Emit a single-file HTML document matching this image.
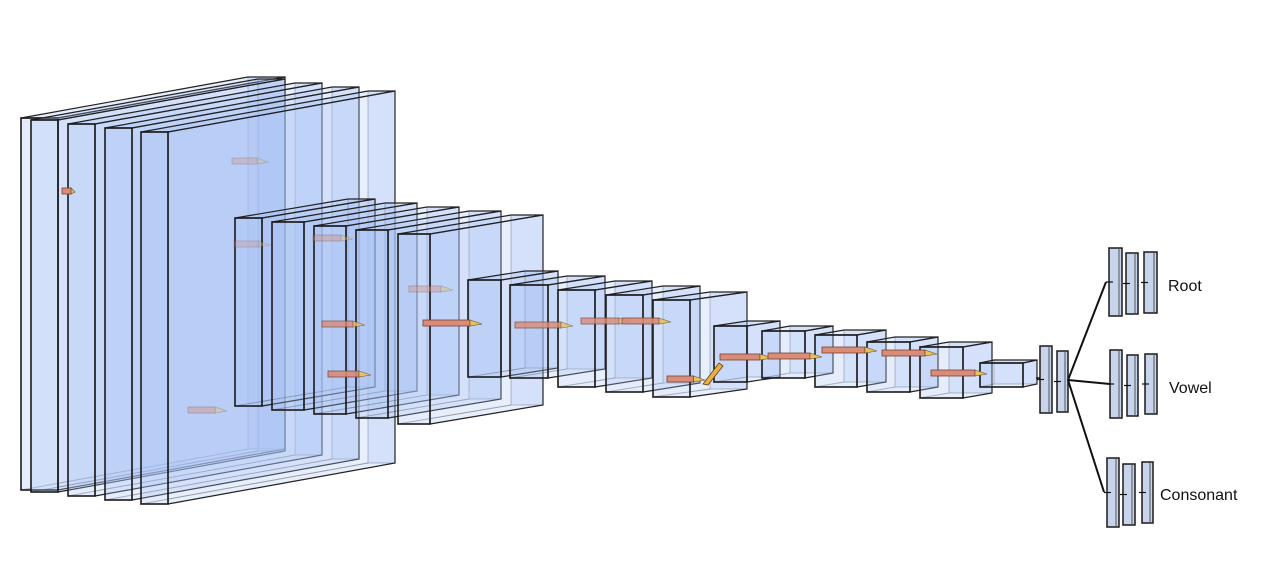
<!DOCTYPE html>
<html><head><meta charset="utf-8"><style>
html,body{margin:0;padding:0;background:#fff;width:1280px;height:569px;overflow:hidden}
svg{display:block}
text{font-family:"Liberation Sans",sans-serif;font-size:16px;fill:#111}
</style></head><body>
<svg id="c" width="1280" height="569" viewBox="0 0 1280 569">
<g id="boxes"></g>
<g id="arrows"></g>
<polygon points="703,384 719,363 723,366 708,385" fill="#e8b040" stroke="#5a4010" stroke-width="0.8"/>
<g id="dense"></g>
<g id="links">
<line x1="1068" y1="380" x2="1106" y2="282" stroke="#111" stroke-width="2"/>
<line x1="1068" y1="380" x2="1110" y2="384" stroke="#111" stroke-width="2"/>
<line x1="1068" y1="380" x2="1104" y2="492" stroke="#111" stroke-width="2"/>
<line x1="1036" y1="378" x2="1040" y2="378" stroke="#111" stroke-width="1.5"/>
</g>
<text x="1168" y="291">Root</text>
<text x="1169" y="393">Vowel</text>
<text x="1160" y="500">Consonant</text>
</svg>
<script>
// layer boxes: front x, y, width, height, depth dx, dy
const layerX=[21,31,68,105,141, 235,272,314,356,398, 468,510,558,606,653, 714,762,815,867,920, 980];
const layerY=[118,120,124,128,132, 218,222,226,230,234, 280,285,290,295,300, 326,331,335,342,347, 363];
const layerW=[37,27,27,27,27, 27,32,32,32,32, 33,38,37,37,37, 33,43,42,43,43, 43];
const layerH=[372,372,372,372,372, 188,188,188,188,190, 97,93,97,97,97, 56,47,52,50,51, 24];
const layerDX=[227,227,227,227,227, 113,113,113,113,113, 57,57,57,57,57, 33,28,29,28,29, 14];
const layerDY=[-41,-41,-41,-41,-41, -19,-19,-19,-19,-19, -9,-9,-9,-9,-8, -5,-5,-5,-5,-5, -3];
// arrows: x1, y, x2, opacity
const arrX1=[62,232,234,313,322,328,188,409,423,515,581,622,667,720,768,822,882,931];
const arrY=[191,161,244,238,324,374,410,289,323,325,321,321,379,357,356,350,353,373];
const arrX2=[75,268,270,353,365,371,227,453,482,573,631,671,705,772,822,877,937,987];
const arrOp=[1,0.3,0.3,0.4,0.8,0.9,0.4,0.4,1,0.8,0.8,0.9,1,1,1,1,1,1];
// dense columns: x, y, w, h
const denseX=[1040,1057, 1109,1126,1144, 1110,1127,1145, 1107,1123,1142];
const denseY=[346,351, 248,253,252, 350,355,354, 458,464,462];
const denseW=[12,11, 13,12,13, 12,11,12, 12,12,11];
const denseH=[67,61, 68,61,61, 68,61,60, 69,61,61];

const NS='http://www.w3.org/2000/svg';
function mk(tag,attrs,parent){const e=document.createElementNS(NS,tag);for(const k in attrs)e.setAttribute(k,attrs[k]);parent.appendChild(e);return e;}
const gb=document.getElementById('boxes');
for(let i=0;i<layerX.length;i++){
  const x=layerX[i],y=layerY[i],w=layerW[i],h=layerH[i],dx=layerDX[i],dy=layerDY[i];
  const g=mk('g',{},gb);
  
  
  const fill='rgba(170,195,245,0.28)';
  mk('rect',{x:x+dx,y:y+dy,width:w,height:h,fill:fill,stroke:'#222','stroke-opacity':0.35,'stroke-width':1},g);
  mk('polygon',{points:`${x},${y} ${x+dx},${y+dy} ${x+dx+w},${y+dy} ${x+w},${y}`,fill:fill,stroke:'#222','stroke-width':1.2},g);
  mk('polygon',{points:`${x+w},${y} ${x+w+dx},${y+dy} ${x+w+dx},${y+dy+h} ${x+w},${y+h}`,fill:fill,stroke:'#222','stroke-width':1.2},g);
  mk('line',{x1:x,y1:y+h,x2:x+dx,y2:y+h+dy,stroke:'#222','stroke-opacity':0.4},g);
  mk('rect',{x:x,y:y,width:w,height:h,fill:'rgba(170,195,245,0.3)',stroke:'#1a1a1a','stroke-width':1.6},g);
}
const ga=document.getElementById('arrows');
for(let i=0;i<arrX1.length;i++){
  const x1=arrX1[i],y=arrY[i],x2=arrX2[i],op=arrOp[i];
  const g=mk('g',{opacity:op},ga);
  
  
  const tip=Math.min(12,(x2-x1)*0.3);
  mk('rect',{x:x1,y:y-3,width:x2-x1-tip,height:6,fill:'#d98c78',stroke:'#7a4030','stroke-width':0.8},g);
  mk('polygon',{points:`${x2-tip},${y-3} ${x2},${y+1} ${x2-tip},${y+3}`,fill:'#e8c060',stroke:'#6a5020','stroke-width':0.6},g);
}
const gd=document.getElementById('dense');
for(let i=0;i<denseX.length;i++){
  const x=denseX[i],y=denseY[i],w=denseW[i],h=denseH[i];
  const g=mk('g',{},gd);
  
  
  mk('rect',{x:x,y:y,width:w,height:h,fill:'#c8d4ec',stroke:'#1a1a1a','stroke-width':1.5},g);
  mk('line',{x1:x+w-3,y1:y+1,x2:x+w-3,y2:y+h-1,stroke:'#333','stroke-width':0.8},g);
  mk('line',{x1:x-3,y1:y+h/2,x2:x+4,y2:y+h/2,stroke:'#111','stroke-width':1.2},g);
}
</script>
</body></html>
